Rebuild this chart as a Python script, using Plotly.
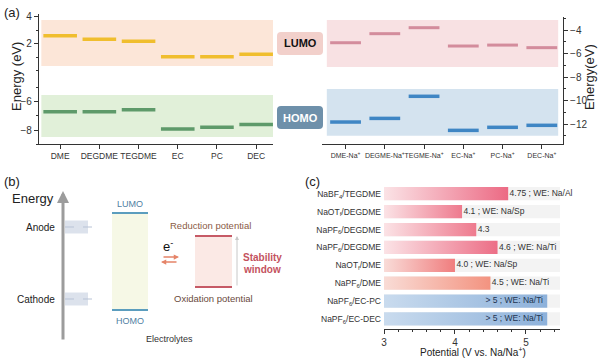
import plotly.graph_objects as go

W, H = 600, 361


def px(x):
    return x / W


def py(y):
    return 1 - y / H


# ---------------- data ----------------
left_cats = ["DME", "DEGDME", "TEGDME", "EC", "PC", "DEC"]
left_lumo = [2.61, 2.35, 2.20, 1.06, 1.06, 1.24]
left_homo = [-6.69, -6.69, -6.55, -7.93, -7.81, -7.60]
left_lumo_band = [0.37, 3.78]
left_homo_band = [-8.5, -5.5]

right_cats = ["DME-Na<sup>+</sup>", "DEGME-Na<sup>+</sup>", "TEGME-Na<sup>+</sup>",
              "EC-Na<sup>+</sup>", "PC-Na<sup>+</sup>", "DEC-Na<sup>+</sup>"]
right_lumo = [-5.08, -4.31, -3.80, -5.36, -5.28, -5.50]
right_homo = [-11.83, -11.52, -9.64, -12.54, -12.28, -12.11]
right_lumo_band = [-7.15, -3.15]
right_homo_band = [-13.0, -9.02]

c_labels = ["NaBF<sub>4</sub>/TEGDME", "NaOT<sub>f</sub>/DEGDME", "NaPF<sub>6</sub>/DEGDME",
            "NaPF<sub>6</sub>/DEGDME", "NaOT<sub>f</sub>/DME", "NaPF<sub>6</sub>/DME",
            "NaPF<sub>6</sub>/EC-PC", "NaPF<sub>6</sub>/EC-DEC"]
c_values = [4.75, 4.1, 4.3, 4.6, 4.0, 4.5, 5.3, 5.3]
c_notes = ["4.75 ; WE: Na/Al", "4.1 ; WE: Na/Sp", "4.3", "4.6 ; WE: Na/Ti",
           "4.0 ; WE: Na/Sp", "4.5 ; WE: Na/Ti", "> 5 ; WE: Na/Ti", "> 5 ; WE: Na/Ti"]
c_inside = [False, False, False, False, False, False, True, True]
c_grad = [["#FBE3E6", "#EC6A84"], ["#FBE3E6", "#EE7A8E"], ["#FBE3E6", "#EE7A8E"],
          ["#FBE3E6", "#EC6E86"], ["#F9DCD8", "#F07D7E"], ["#F9DCD6", "#F39380"],
          ["#C9DBEE", "#8DB1DA"], ["#C9DBEE", "#8DB1DA"]]
c_xmax = 5.48

FONT = "Liberation Sans, Arial, sans-serif"
AX = "#333333"

fig = go.Figure()

# ---------------- panel (a) left ----------------
idx = list(range(len(left_cats)))
fig.add_trace(go.Scatter(x=idx, y=left_lumo, mode="markers", xaxis="x", yaxis="y",
                         marker=dict(symbol="line-ew", size=24,
                                     line=dict(width=3.5, color="#F0BE2E")),
                         showlegend=False, hoverinfo="skip"))
fig.add_trace(go.Scatter(x=idx, y=left_homo, mode="markers", xaxis="x", yaxis="y2",
                         marker=dict(symbol="line-ew", size=24,
                                     line=dict(width=3.5, color="#5E9A6A")),
                         showlegend=False, hoverinfo="skip"))

# ---------------- panel (a) right ----------------
fig.add_trace(go.Scatter(x=idx, y=right_lumo, mode="markers", xaxis="x2", yaxis="y3",
                         marker=dict(symbol="line-ew", size=22,
                                     line=dict(width=3, color="#D38C9C")),
                         showlegend=False, hoverinfo="skip"))
fig.add_trace(go.Scatter(x=idx, y=right_homo, mode="markers", xaxis="x2", yaxis="y3",
                         marker=dict(symbol="line-ew", size=22,
                                     line=dict(width=3.5, color="#3F86C4")),
                         showlegend=False, hoverinfo="skip"))

# ---------------- panel (c) ----------------
hh = 0.37
for i, v in enumerate(c_values):
    fig.add_trace(go.Scatter(x=[3, c_xmax, c_xmax, 3, 3], y=[i - hh, i - hh, i + hh, i + hh, i - hh],
                             mode="lines", fill="toself", fillcolor="#F3F3F3",
                             line=dict(width=0), xaxis="x3", yaxis="y4",
                             showlegend=False, hoverinfo="skip"))
for i, v in enumerate(c_values):
    fig.add_trace(go.Scatter(x=[3, v, v, 3, 3], y=[i - hh, i - hh, i + hh, i + hh, i - hh],
                             mode="lines", fill="toself",
                             fillgradient=dict(type="horizontal",
                                               colorscale=[[0, c_grad[i][0]], [1, c_grad[i][1]]]),
                             line=dict(width=0), xaxis="x3", yaxis="y4",
                             showlegend=False, hoverinfo="skip"))
out_x = [v + 0.02 for v, ins in zip(c_values, c_inside) if not ins]
out_y = [i for i, ins in enumerate(c_inside) if not ins]
out_t = [t for t, ins in zip(c_notes, c_inside) if not ins]
in_x = [v - 0.06 for v, ins in zip(c_values, c_inside) if ins]
in_y = [i for i, ins in enumerate(c_inside) if ins]
in_t = [t for t, ins in zip(c_notes, c_inside) if ins]
fig.add_trace(go.Scatter(x=out_x, y=out_y, text=out_t, mode="text", textposition="middle right",
                         textfont=dict(size=8.5, color="#333", family=FONT), cliponaxis=False,
                         xaxis="x3", yaxis="y4", showlegend=False, hoverinfo="skip"))
fig.add_trace(go.Scatter(x=in_x, y=in_y, text=in_t, mode="text", textposition="middle left",
                         textfont=dict(size=8.5, color="#1E3550", family=FONT), cliponaxis=False,
                         xaxis="x3", yaxis="y4", showlegend=False, hoverinfo="skip"))

shapes = []
annotations = []

# bands (a)
shapes += [
    dict(type="rect", xref="x domain", yref="y", x0=0.01, x1=1, y0=left_lumo_band[0],
         y1=left_lumo_band[1], fillcolor="#FCE6D8", line_width=0, layer="below"),
    dict(type="rect", xref="x domain", yref="y2", x0=0.01, x1=1, y0=left_homo_band[0],
         y1=left_homo_band[1], fillcolor="#E1F0D9", line_width=0, layer="below"),
    dict(type="rect", xref="x2 domain", yref="y3", x0=0.02, x1=0.98, y0=right_lumo_band[0],
         y1=right_lumo_band[1], fillcolor="#F8E1E3", line_width=0, layer="below"),
    dict(type="rect", xref="x2 domain", yref="y3", x0=0.02, x1=0.98, y0=right_homo_band[0],
         y1=right_homo_band[1], fillcolor="#D4E3EF", line_width=0, layer="below"),
]


def rrect(x0, y0, x1, y1, r, fill):
    X0, X1 = px(x0), px(x1)
    Y0, Y1 = py(y1), py(y0)
    rx, ry = r / W, r / H
    p = (f"M {X0+rx},{Y0} L {X1-rx},{Y0} Q {X1},{Y0} {X1},{Y0+ry} L {X1},{Y1-ry} "
         f"Q {X1},{Y1} {X1-rx},{Y1} L {X0+rx},{Y1} Q {X0},{Y1} {X0},{Y1-ry} "
         f"L {X0},{Y0+ry} Q {X0},{Y0} {X0+rx},{Y0} Z")
    return dict(type="path", xref="paper", yref="paper", path=p, fillcolor=fill, line_width=0)


shapes.append(rrect(277, 32, 323, 55, 4, "#F2D0CB"))
shapes.append(rrect(277, 106, 323, 129, 4, "#6E90AA"))


def ann(x, y, text, size=10, color="#222", xanchor="center", **kw):
    d = dict(x=px(x), y=py(y), xref="paper", yref="paper", text=text, showarrow=False,
             font=dict(size=size, color=color, family=FONT), xanchor=xanchor, yanchor="middle")
    d.update(kw)
    annotations.append(d)


ann(300, 43.5, "<b>LUMO</b>", 11, "#111")
ann(300, 117.5, "<b>HOMO</b>", 11, "#FFFFFF")
ann(12, 12, "(a)", 13, "#222")
ann(17, 77, "Energy (eV)", 13, "#222", textangle=-90)
ann(590, 77, "Energy(eV)", 13, "#222", textangle=-90)

# ---------------- panel (b) schematic ----------------
ann(12, 181, "(b)", 13, "#222")
ann(33, 198, "Energy", 13, "#222")
annotations.append(dict(x=px(63), y=py(191), xref="paper", yref="paper", ax=0, ay=150,
                        axref="pixel", ayref="pixel", showarrow=True, arrowhead=2,
                        arrowsize=0.8, arrowwidth=3, arrowcolor="#9C9C9C", text=""))
ann(57, 227, "Anode", 10, "#222", xanchor="right")
ann(57, 299, "Cathode", 10, "#222", xanchor="right")
for yc in (227, 299):
    shapes.append(dict(type="rect", xref="paper", yref="paper", x0=px(65), x1=px(88),
                       y0=py(yc + 6.5), y1=py(yc - 6.5), fillcolor="#DCE2EC", line_width=0))
    shapes.append(dict(type="line", xref="paper", yref="paper", x0=px(65), x1=px(96),
                       y0=py(yc), y1=py(yc), line=dict(color="#B8C3D6", width=1, dash="dash")))
shapes.append(dict(type="rect", xref="paper", yref="paper", x0=px(112), x1=px(148),
                   y0=py(310), y1=py(213), fillcolor="#F6F8E6", line_width=0))
for yl in (213, 310):
    shapes.append(dict(type="line", xref="paper", yref="paper", x0=px(112), x1=px(148),
                       y0=py(yl), y1=py(yl), line=dict(color="#5B9DBE", width=2)))
ann(130, 204, "LUMO", 9, "#4F7FA3")
ann(130, 321, "HOMO", 9, "#4F7FA3")
ann(169, 339, "Electrolytes", 9, "#333")
ann(168, 246, "e<sup>-</sup>", 13, "#111")
annotations.append(dict(x=px(179), y=py(257), xref="paper", yref="paper", ax=-17, ay=0,
                        axref="pixel", ayref="pixel", showarrow=True, arrowhead=2,
                        arrowsize=0.7, arrowwidth=1.5, arrowcolor="#E58468", text=""))
annotations.append(dict(x=px(161), y=py(262), xref="paper", yref="paper", ax=17, ay=0,
                        axref="pixel", ayref="pixel", showarrow=True, arrowhead=2,
                        arrowsize=0.7, arrowwidth=1.5, arrowcolor="#E58468", text=""))
shapes.append(dict(type="rect", xref="paper", yref="paper", x0=px(195), x1=px(232),
                   y0=py(287), y1=py(236), fillcolor="#FBE9E5", line_width=0))
for yl in (236, 287):
    shapes.append(dict(type="line", xref="paper", yref="paper", x0=px(195), x1=px(232),
                       y0=py(yl), y1=py(yl), line=dict(color="#C65A66", width=2)))
annotations.append(dict(x=px(237), y=py(236), xref="paper", yref="paper", ax=0, ay=51,
                        axref="pixel", ayref="pixel", showarrow=True, arrowhead=2,
                        arrowsize=0.8, arrowwidth=1, arrowcolor="#C8C8C8", text=""))
ann(210, 225, "Reduction potential", 9.5, "#8A5A45")
ann(213, 298, "Oxidation potential", 9.5, "#6A4A3C")
ann(262, 257, "<b>Stability</b>", 10, "#C4525E")
ann(262, 269, "<b>window</b>", 10, "#C4525E")

# ---------------- panel (c) text ----------------
ann(313, 182, "(c)", 13, "#222")
ann(473, 352, "Potential (V vs. Na/Na<sup>+</sup>)", 10, "#222")

tickfont_l = dict(size=8.5, color=AX, family=FONT)
tickfont_r = dict(size=7, color=AX, family=FONT)

fig.update_layout(
    width=W, height=H, margin=dict(l=0, r=0, t=0, b=0, autoexpand=False),
    paper_bgcolor="white", plot_bgcolor="rgba(0,0,0,0)",
    font=dict(family=FONT, color=AX),
    shapes=shapes, annotations=annotations, showlegend=False,
    xaxis=dict(domain=[px(39), px(273)], anchor="y2", range=[-0.54, 5.43],
               tickvals=idx, ticktext=left_cats, showline=True, linecolor=AX, linewidth=1.2,
               ticks="outside", ticklen=4, tickcolor=AX, showgrid=False, zeroline=False,
               tickfont=tickfont_l, tickangle=0, automargin=False),
    yaxis=dict(domain=[py(73), py(14)], anchor="x", range=[-0.15, 4.22],
               tickvals=[2, 4], showline=True, linecolor=AX, linewidth=1.2, ticks="outside",
               ticklen=4, tickcolor=AX, showgrid=False, zeroline=False, automargin=False,
               tickfont=dict(size=10, color=AX, family=FONT),
               minor=dict(tickvals=[0, 1, 3], ticks="outside", ticklen=2, tickcolor=AX)),
    yaxis2=dict(domain=[py(144), py(73)], anchor="x", range=[-9.0, -3.93],
                tickvals=[-6, -8], showline=True, linecolor=AX, linewidth=1.2, ticks="outside",
                ticklen=4, tickcolor=AX, showgrid=False, zeroline=False, automargin=False,
                tickfont=dict(size=10, color=AX, family=FONT),
                minor=dict(tickvals=[-5, -7, -9], ticks="outside", ticklen=2, tickcolor=AX)),
    xaxis2=dict(domain=[px(322), px(563)], anchor="y3", range=[-0.6, 5.54],
                tickvals=idx, ticktext=right_cats, showline=True, linecolor=AX, linewidth=1.2,
                ticks="outside", ticklen=4, tickcolor=AX, showgrid=False, zeroline=False,
                tickfont=tickfont_r, tickangle=0, automargin=False),
    yaxis3=dict(domain=[py(144), py(17)], anchor="x2", side="right", range=[-13.7, -2.89],
                tickvals=[-4, -6, -8, -10, -12], showline=True, linecolor=AX, linewidth=1.2,
                ticks="outside", ticklen=4, tickcolor=AX, showgrid=False, zeroline=False,
                tickfont=dict(size=10, color=AX, family=FONT), automargin=False,
                minor=dict(tickvals=[-3, -5, -7, -9, -11, -13], ticks="outside", ticklen=2,
                           tickcolor=AX)),
    xaxis3=dict(domain=[px(384), px(560)], anchor="y4", range=[3, c_xmax],
                tickvals=[3, 4, 5], showline=True, linecolor=AX, linewidth=1.2,
                ticks="outside", ticklen=4, tickcolor=AX, showgrid=False, zeroline=False,
                tickfont=dict(size=10, color=AX, family=FONT), automargin=False,
                minor=dict(dtick=0.2, ticks="outside", ticklen=2, tickcolor=AX)),
    yaxis4=dict(domain=[py(329), py(183)], anchor="x3", range=[7.56, -0.6],
                tickvals=list(range(len(c_labels))), ticktext=c_labels, showline=False,
                ticks="", showgrid=False, zeroline=False, ticklabelstandoff=2,
                automargin=False, tickfont=dict(size=8.5, color=AX, family=FONT)),
)

fig.write_html("out.html", config={"displayModeBar": False},
               post_script="document.body.style.margin='0px';document.body.style.overflow='hidden';")
